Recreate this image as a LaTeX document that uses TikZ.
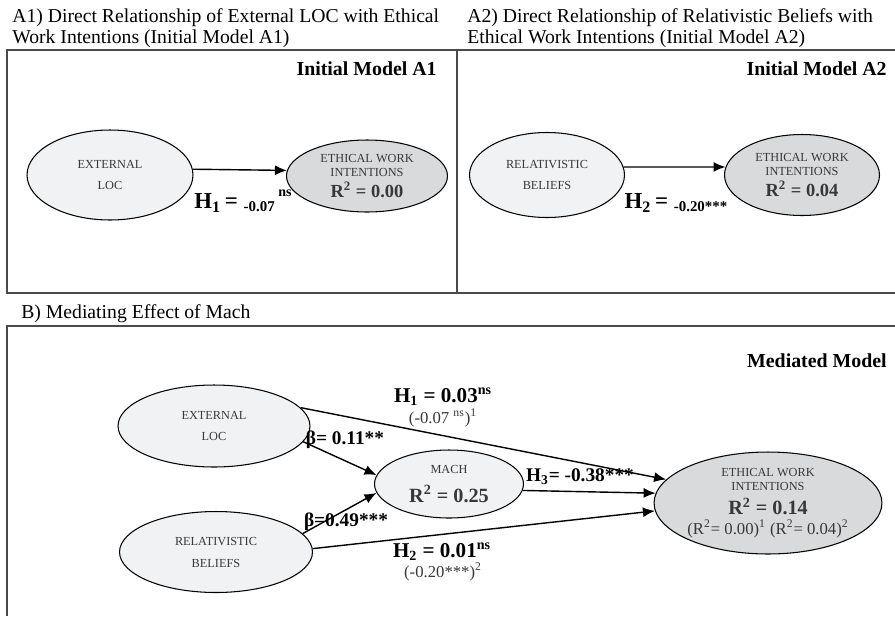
\documentclass[tikz,border=0pt]{standalone}
\usepackage{fontspec}
\setmainfont{Liberation Serif}
\usetikzlibrary{shapes.geometric,arrows.meta}
\definecolor{litefill}{HTML}{F1F2F4}
\definecolor{darkfill}{HTML}{D9DADC}
\definecolor{nodetext}{HTML}{383838}
\definecolor{framegray}{HTML}{4A4A4A}
\begin{document}
\begin{tikzpicture}[
		x=0.02cm, y=-0.02cm,
		construct/.style={ellipse, draw, line width=0.6pt, inner sep=0pt,
			align=center, text=nodetext, font=\fontsize{7}{8.5}\selectfont},
		lite/.style={fill=litefill},
		dark/.style={fill=darkfill},
		arr/.style={-{Latex[length=2.4mm,width=2mm]}, line width=0.8pt},
		frame/.style={draw=framegray, line width=0.9pt},
		heading/.style={anchor=north west, align=left, inner sep=0pt,
			font=\fontsize{11.2}{12}\selectfont},
		model/.style={anchor=east, inner sep=0pt,
			font=\fontsize{11.3}{13}\selectfont\bfseries},
		coef/.style={font=\fontsize{11}{13}\selectfont\bfseries},
		note/.style={font=\fontsize{9.5}{11}\selectfont, text=nodetext},
	]
		\useasboundingbox (0,0) rectangle (895,616);

		% panel frames
		\draw[frame] (895,50) -- (7,50) -- (7,293) -- (895,293);
		\draw[frame] (457,50) -- (457,293);
		\draw[frame] (895,326) -- (7,326) -- (7,616);

		% headings
		\node[heading] (headA1) at (12,8)
			{A1) Direct Relationship of External LOC with Ethical\\
			 Work Intentions (Initial Model A1)};
		\node[heading] (headA2) at (467,8)
			{A2) Direct Relationship of Relativistic Beliefs with\\
			 Ethical Work Intentions (Initial Model A2)};
		\node[heading] (headB) at (21,304) {B) Mediating Effect of Mach};
		\node[model] (titleA1) at (437,69) {Initial Model A1};
		\node[model] (titleA2) at (887,69) {Initial Model A2};
		\node[model] (titleB) at (887,361) {Mediated Model};

		% initial model A1
		\node[construct, lite, minimum width=3.32cm, minimum height=1.8cm] (extA) at (110,175)
			{EXTERNAL\\[3.5pt]LOC};
		\node[construct, dark, minimum width=3.22cm, minimum height=1.44cm] (ewiA1) at (367,176)
			{ETHICAL WORK\\INTENTIONS\\[2pt]
			 {\fontsize{10.5}{12}\selectfont\bfseries R\textsuperscript{2} = 0.00}};
		\draw[arr] (extA.4) -- (ewiA1.176);
		\node (hypA1) at (243,201)
			{\bfseries{\fontsize{13}{15}\selectfont H\textsubscript{1}\,= }%
			 \raisebox{-1.5pt}{\fontsize{8.5}{10}\selectfont -0.07}%
			 \raisebox{7pt}{\fontsize{8}{10}\selectfont\ ns}};

		% initial model A2
		\node[construct, lite, minimum width=3.1cm, minimum height=1.7cm] (relA) at (547,175)
			{RELATIVISTIC\\[3.5pt]BELIEFS};
		\node[construct, dark, minimum width=3.1cm, minimum height=1.62cm] (ewiA2) at (802,175)
			{ETHICAL WORK\\INTENTIONS\\[2pt]
			 {\fontsize{10.5}{12}\selectfont\bfseries R\textsuperscript{2} = 0.04}};
		\draw[arr] (relA.6) -- (ewiA2.174);
		\node (hypA2) at (676,203)
			{\bfseries{\fontsize{13}{15}\selectfont H\textsubscript{2}\,= }%
			 \raisebox{-1.5pt}{\fontsize{8.5}{10}\selectfont -0.20***}};

		% mediated model B
		\node[construct, lite, minimum width=3.84cm, minimum height=1.64cm] (extB) at (214,426)
			{EXTERNAL\\[4pt]LOC};
		\node[construct, lite, minimum width=3.86cm, minimum height=1.62cm] (relB) at (216,552)
			{RELATIVISTIC\\[4pt]BELIEFS};
		\node[construct, lite, minimum width=2.98cm, minimum height=1.36cm] (mach) at (449,484)
			{MACH\\[5.5pt]
			 {\fontsize{11.5}{13}\selectfont\bfseries R\textsuperscript{2} = 0.25}};
		\node[construct, dark, minimum width=4.5cm, minimum height=2.04cm] (ewiB) at (768,503)
			{ETHICAL WORK\\INTENTIONS\\[2.8pt]
			 {\fontsize{11.5}{13}\selectfont\bfseries R\textsuperscript{2} = 0.14}\\[2.8pt]
			 {\fontsize{9.5}{11}\selectfont (R\textsuperscript{2}= 0.00)\textsuperscript{1}
			  (R\textsuperscript{2}= 0.04)\textsuperscript{2}}};

		\draw[arr] (extB.12) -- (ewiB.167);
		\draw[arr] (extB.-10) -- (mach.173);
		\draw[arr] (relB.12) -- (mach.187);
		\draw[arr] (mach.-5) -- (ewiB.175);
		\draw[arr] (relB.2) -- (ewiB.184);

		% path coefficients
		\node[coef, font=\fontsize{12}{14}\selectfont\bfseries] (hypB1) at (443,397)
			{H\textsubscript{1} = 0.03\textsuperscript{ns}};
		\node[note] (priorB1) at (443,418)
			{(-0.07 \textsuperscript{ns})\textsuperscript{1}};
		\node[coef] (betaB1) at (345,440) {β= 0.11**};
		\node[coef] (betaB2) at (346,522) {β=0.49***};
		\node[coef] (hypB3) at (580,477) {H\textsubscript{3}= -0.38***};
		\node[coef, font=\fontsize{12}{14}\selectfont\bfseries] (hypB2) at (442,552)
			{H\textsubscript{2} = 0.01\textsuperscript{ns}};
		\node[note] (priorB2) at (443,572)
			{(-0.20***)\textsuperscript{2}};
	\end{tikzpicture}
\end{document}
